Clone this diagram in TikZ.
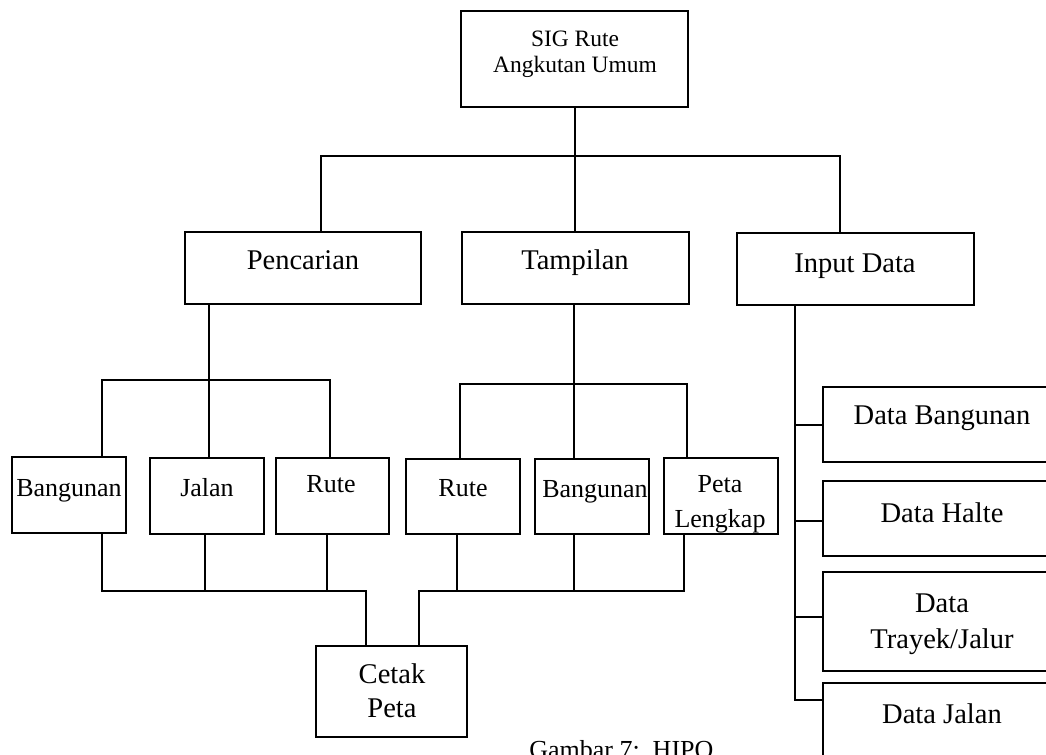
\documentclass[tikz,border=0pt]{standalone}
\usepackage{fontspec}
\setmainfont{Liberation Serif}
% box from its corners: name, x1, y1, x2, y2 (pixel grid, y downwards)
\newcommand\boxat[5]{\node[box,minimum width={(#4-#2)*0.75pt},minimum height={(#5-#3)*0.75pt}] (#1) at ({(#2+#4)/2},{(#3+#5)/2}) {};}
\begin{document}
\begin{tikzpicture}[x=0.75pt,y=-0.75pt,
  box/.style={draw,line width=1.1pt,inner sep=0pt,outer sep=0pt},
  wire/.style={line width=1.1pt},
  big/.style={font=\fontsize{21.4}{25}\selectfont,inner sep=0pt},
  mid/.style={font=\fontsize{19.5}{23}\selectfont,inner sep=0pt},
  small/.style={font=\fontsize{17.6}{20}\selectfont,inner sep=0pt}]
\useasboundingbox (0,0) rectangle (1046,755);

% boxes
\boxat{top}{461}{11}{688}{107}
\boxat{penc}{185}{232}{421}{304}
\boxat{tamp}{462}{232}{689}{304}
\boxat{inp}{737}{233}{974}{305}
\boxat{bangL}{12}{457}{126}{533}
\boxat{jalan}{150}{458}{264}{534}
\boxat{ruteL}{276}{458}{389}{534}
\boxat{ruteR}{406}{459}{520}{534}
\boxat{bangR}{535}{459}{649}{534}
\boxat{peta}{664}{458}{778}{534}
\boxat{cetak}{316}{646}{467}{737}
\boxat{dbang}{823}{387}{1061}{462}
\boxat{dhalte}{823}{481}{1061}{556}
\boxat{dtrayek}{823}{572}{1061}{671}
\boxat{djalan}{823}{683}{1061}{790}

% labels
\node[small,anchor=base] (tTop1) at (575,47) {SIG Rute};
\node[small,anchor=base] (tTop2) at (575,73) {Angkutan Umum};
\node[big,anchor=base] (tPenc) at (303,270) {Pencarian};
\node[big,anchor=base] (tTamp) at (575,270) {Tampilan};
\node[big,anchor=base] (tInp) at (855,273) {Input Data};
\node[mid,anchor=base] (tBangL) at (69,496) {Bangunan};
\node[mid,anchor=base] (tJalan) at (207,496) {Jalan};
\node[mid,anchor=base] (tRuteL) at (331,493) {Rute};
\node[mid,anchor=base] (tRuteR) at (463,496) {Rute};
\node[mid,anchor=base] (tBangR) at (595,498) {Bangunan};
\node[mid,anchor=base] (tPeta1) at (720,493) {Peta};
\node[mid,anchor=base] (tPeta2) at (720,527) {Lengkap};
\node[big,anchor=base] (tCetak1) at (392,683) {Cetak};
\node[big,anchor=base] (tCetak2) at (392,717) {Peta};
\node[big,anchor=base] (tDB) at (942,425) {Data Bangunan};
\node[big,anchor=base] (tDH) at (942,522) {Data Halte};
\node[big,anchor=base] (tDT1) at (942,612) {Data};
\node[big,anchor=base] (tDT2) at (942,648) {Trayek/Jalur};
\node[big,anchor=base] (tDJ) at (942,723) {Data Jalan};
\node[mid,anchor=base west] (cap) at (529,758) {Gambar 7:~~HIPO};

% first level
\coordinate (b1) at (575,156);
\draw[wire] (top.south -| b1) -- (tamp.north -| b1);
\draw[wire] (penc.north -| 321,0) -- (321,156) -- (840,156) -- (inp.north -| 840,0);

% under Pencarian
\coordinate (pbar) at (209,380);
\draw[wire] (penc.south -| pbar) -- (pbar);
\draw[wire] (bangL.north -| 102,0) -- (102,380) -- (330,380) -- (ruteL.north -| 330,0);
\draw[wire] (pbar) -- (jalan.north -| pbar);

% under Tampilan
\coordinate (tbar) at (574,384);
\draw[wire] (tamp.south -| tbar) -- (tbar);
\draw[wire] (ruteR.north -| 460,0) -- (460,384) -- (687,384) -- (peta.north -| 687,0);
\draw[wire] (tbar) -- (bangR.north -| tbar);

% to Cetak Peta, left group
\draw[wire] (bangL.south -| 102,0) -- (102,591) -- (366,591) -- (cetak.north -| 366,0);
\draw[wire] (jalan.south -| 205,0) -- (205,591);
\draw[wire] (ruteL.south -| 327,0) -- (327,591);

% to Cetak Peta, right group
\draw[wire] (peta.south -| 684,0) -- (684,591) -- (419,591) -- (cetak.north -| 419,0);
\draw[wire] (ruteR.south -| 457,0) -- (457,591);
\draw[wire] (bangR.south -| 574,0) -- (574,591);

% under Input Data
\draw[wire] (inp.south -| 795,0) -- (795,700) -- (djalan.west |- 0,700);
\draw[wire] (795,425) -- (dbang.west |- 0,425);
\draw[wire] (795,521) -- (dhalte.west |- 0,521);
\draw[wire] (795,617) -- (dtrayek.west |- 0,617);
\end{tikzpicture}
\end{document}
